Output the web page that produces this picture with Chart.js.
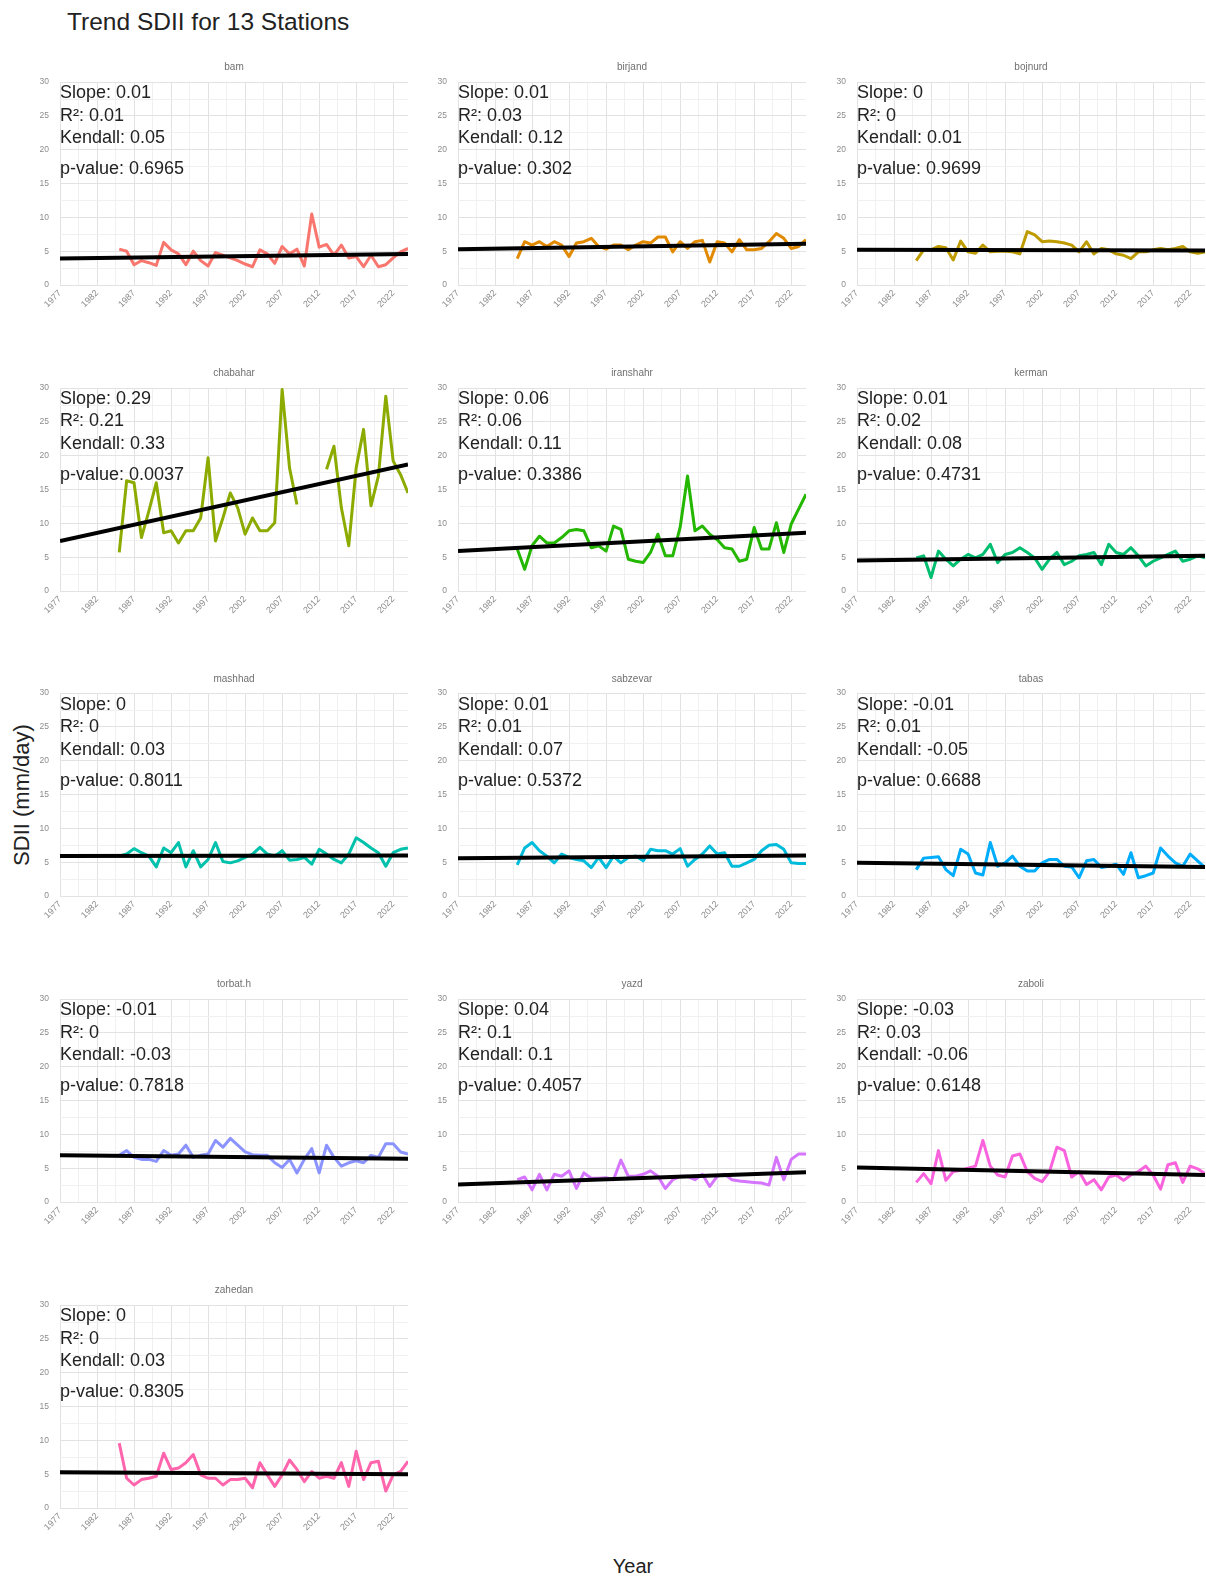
<!DOCTYPE html>
<html>
<head>
<meta charset="utf-8">
<script src="https://cdn.jsdelivr.net/npm/chart.js@4.4.1/dist/chart.umd.min.js"></script>
<style>
  html, body { margin: 0; padding: 0; background: #ffffff; }
  #fig { position: relative; width: 1206px; height: 1580px; overflow: hidden; background: #ffffff;
         font-family: "Liberation Sans", Arial, Helvetica, sans-serif; }
  .abs { position: absolute; white-space: nowrap; }
  .ann { position: absolute; white-space: nowrap; font-size: 18px; line-height: 20px; color: #222; }
  .strip { position: absolute; white-space: nowrap; font-size: 10px; line-height: 12px; color: #707070; transform: translateX(-50%); }
</style>
</head>
<body>
<div id="fig"></div>
<script>
// ---------------- data ----------------
const stations = ['bam','birjand','bojnurd','chabahar','iranshahr','kerman','mashhad','sabzevar','tabas','torbat.h','yazd','zaboli','zahedan'];
const years = [1985,1986,1987,1988,1989,1990,1991,1992,1993,1994,1995,1996,1997,1998,1999,2000,2001,2002,2003,2004,
               2005,2006,2007,2008,2009,2010,2011,2012,2013,2014,2015,2016,2017,2018,2019,2020,2021,2022,2023,2024];
const xTickLabels = [1977,1982,1987,1992,1997,2002,2007,2012,2017,2022];
const yTickLabels = [0,5,10,15,20,25,30];

const bam      = [5.3,5.0,3.0,3.6,3.3,2.9,6.3,5.2,4.6,3.0, 5.0,3.6,2.8,4.8,4.4,4.0,3.6,3.1,2.7,5.2, 4.6,3.2,5.7,4.6,5.3,2.8,10.5,5.6,6.0,4.4, 5.9,4.0,4.2,2.7,4.4,2.7,3.0,4.0,4.9,5.4];
const birjand  = [3.9,6.4,5.9,6.4,5.7,6.4,5.9,4.2,6.2,6.4, 6.9,5.7,5.3,5.9,5.9,5.2,5.9,6.4,6.2,7.1, 7.1,4.9,6.4,5.4,6.4,6.6,3.4,6.4,6.2,4.9, 6.7,5.2,5.2,5.4,6.4,7.6,6.9,5.4,5.7,6.7];
const bojnurd  = [3.6,5.2,5.2,5.7,5.5,3.7,6.5,4.9,4.7,5.9, 4.9,5.0,5.0,4.9,4.6,7.9,7.4,6.4,6.5,6.4, 6.2,5.9,4.9,6.4,4.6,5.4,5.2,4.6,4.4,3.9, 4.9,4.9,5.2,5.4,5.2,5.4,5.7,4.9,4.7,4.9];
const chabahar = [5.7,16.3,16.0,7.9,11.8,16.0,8.6,8.9,7.1,8.9, 8.9,10.8,19.7,7.4,10.8,14.5,12.3,8.4,10.8,8.9, 8.9,10.1,29.8,18.2,12.8,null,null,null,18.0,21.4, 12.3,6.7,18.2,23.9,12.6,17.0,28.8,19.2,17.2,14.5];
const iranshahr= [6.2,3.2,6.7,8.1,7.1,7.1,7.9,8.9,9.1,8.9, 6.4,6.7,5.9,9.6,9.1,4.7,4.4,4.2,5.7,8.4, 5.2,5.2,9.4,17.0,8.9,9.6,8.4,7.6,6.4,6.2, 4.4,4.7,9.4,6.2,6.2,10.1,5.7,9.9,12.1,14.3];
const kerman   = [4.9,5.2,2.0,5.9,4.7,3.7,4.7,5.4,4.9,5.4, 6.9,4.2,5.4,5.7,6.4,5.7,4.9,3.2,4.7,5.7, 3.9,4.4,5.2,5.4,5.7,3.9,6.9,5.7,5.4,6.4, 5.2,3.7,4.4,4.9,5.4,5.9,4.4,4.7,5.2,4.9];
const mashhad  = [5.9,6.2,7.0,6.4,5.9,4.3,7.1,6.4,7.9,4.3, 6.7,4.3,5.4,7.9,5.1,4.9,5.2,5.7,6.2,7.2, 6.2,5.9,6.7,5.3,5.4,5.7,4.7,6.9,6.2,5.4, 4.9,6.2,8.6,7.9,7.1,6.4,4.4,6.4,6.9,7.1];
const sabzevar = [4.6,7.1,7.9,6.7,5.9,4.9,6.2,5.7,5.4,5.2, 4.2,5.7,4.2,5.9,4.9,5.7,5.9,5.2,6.9,6.7, 6.7,6.2,7.0,4.4,5.4,6.2,7.4,6.2,6.4,4.4, 4.4,4.9,5.4,6.7,7.5,7.6,6.9,4.9,4.8,4.8];
const tabas    = [3.9,5.6,5.7,5.8,3.9,3.0,6.9,6.2,3.4,3.1, 7.9,4.4,4.9,5.9,4.4,3.7,3.7,4.9,5.4,5.4, 4.4,4.3,2.7,5.2,5.4,4.2,4.4,4.7,3.2,6.4, 2.7,3.0,3.4,7.1,5.9,4.9,4.4,6.2,5.2,4.2];
const torbat   = [6.9,7.6,6.6,6.3,6.3,6.0,7.6,6.9,7.1,8.4, 6.6,6.9,7.1,9.1,8.1,9.4,8.4,7.4,7.0,6.9, 6.9,5.8,5.1,6.3,4.3,6.3,7.9,4.3,8.4,6.6, 5.3,5.8,6.1,5.8,6.9,6.6,8.6,8.6,7.4,7.1];
const yazd     = [3.3,3.7,1.8,4.1,1.8,4.1,3.8,4.6,2.0,4.3, 3.5,3.5,3.6,3.3,6.2,3.8,3.8,4.1,4.6,3.8, 2.0,3.3,3.8,3.8,3.3,4.1,2.3,3.8,4.1,3.3, 3.1,3.0,2.9,2.8,2.5,6.6,3.3,6.3,7.1,7.1];
const zaboli   = [2.9,4.2,2.7,7.6,3.2,4.5,4.7,5.0,5.3,9.1, 5.3,4.0,3.7,6.8,7.1,4.5,3.5,3.0,4.5,8.1, 7.6,3.7,4.5,2.6,3.3,1.8,3.7,4.0,3.2,4.0, 4.5,5.3,4.0,1.9,5.5,5.8,2.9,5.3,4.9,4.2];
const zahedan  = [9.6,4.4,3.4,4.2,4.4,4.7,8.1,5.7,5.9,6.7, 7.9,4.9,4.4,4.4,3.4,4.2,4.2,4.4,3.0,6.7, 4.9,3.2,4.9,7.1,5.7,3.9,5.4,4.4,4.7,4.4, 6.7,3.2,8.4,4.2,6.7,6.9,2.5,4.9,5.4,6.9];

// fitted trend line values at 1977 and at 2024
const trendStart = [3.9,5.3,5.2,7.4,5.9,4.5,5.9,5.6,4.9,6.9,2.6,5.1,5.3];
const trendEnd   = [4.6,6.1,5.1,18.7,8.6,5.2,6.0,6.0,4.3,6.4,4.4,4.0,5.0];
const trendYears = [1977, 2024];

const slopeText   = ['0.01','0.01','0','0.29','0.06','0.01','0','0.01','-0.01','-0.01','0.04','-0.03','0'];
const r2Text      = ['0.01','0.03','0','0.21','0.06','0.02','0','0.01','0.01','0','0.1','0.03','0'];
const kendallText = ['0.05','0.12','0.01','0.33','0.11','0.08','0.03','0.07','-0.05','-0.03','0.1','-0.06','0.03'];
const pText       = ['0.6965','0.302','0.9699','0.0037','0.3386','0.4731','0.8011','0.5372','0.6688','0.7818','0.4057','0.6148','0.8305'];

const colors = ['#F8766D','#E18A00','#BE9C00','#8CAB00','#24B700','#00BE70','#00C1AB','#00BBDA','#00ACFC','#8B93FF','#D575FE','#F962DD','#FF65AC'];
const series = [bam,birjand,bojnurd,chabahar,iranshahr,kerman,mashhad,sabzevar,tabas,torbat,yazd,zaboli,zahedan];

// ---------------- layout ----------------
const FONT = '"Liberation Sans", Arial, Helvetica, sans-serif';
const colLeft = [60, 458, 857];
const rowTop0 = 82, rowPitch = 305.75;
const plotW = 348, plotH = 203;
const fig = document.getElementById('fig');

function withMinor(major) {
  const out = [];
  for (let k = 0; k < major.length; k++) {
    out.push({ value: major[k], major: true });
    if (k < major.length - 1) out.push({ value: (major[k] + major[k + 1]) / 2, major: false });
  }
  return out;
}
const xTicks = withMinor(xTickLabels);
const yTicks = withMinor(yTickLabels);

function addText(cls, txt, left, top, extra) {
  const d = document.createElement('div');
  d.className = cls;
  d.textContent = txt;
  d.style.left = left + 'px';
  d.style.top = top + 'px';
  if (extra) Object.assign(d.style, extra);
  fig.appendChild(d);
  return d;
}

const gridColor = c => (c.tick && c.tick.major) ? '#e2e2e2' : '#f0f0f0';

function makeChart(i, W, H) {
  const wrap = document.createElement('div');
  wrap.className = 'abs';
  const cv = document.createElement('canvas');
  cv.width = W; cv.height = H;
  cv.style.width = W + 'px'; cv.style.height = H + 'px';
  wrap.appendChild(cv);
  fig.appendChild(wrap);
  const chart = new Chart(cv, {
    type: 'line',
    data: {
      datasets: [
        { data: trendYears.map((yr, k) => ({ x: yr, y: k === 0 ? trendStart[i] : trendEnd[i] })),
          borderColor: '#000000', borderWidth: 4, pointRadius: 0, tension: 0, borderCapStyle: 'butt' },
        { data: years.map((yr, k) => ({ x: yr, y: series[i][k] })),
          borderColor: colors[i], borderWidth: 3, pointRadius: 0, tension: 0, spanGaps: false,
          borderJoinStyle: 'round', borderCapStyle: 'butt' }
      ]
    },
    options: {
      responsive: false, maintainAspectRatio: false, animation: false, devicePixelRatio: 1,
      events: [],
      layout: { padding: { top: 8, right: 6, left: 0, bottom: 0 } },
      plugins: { legend: { display: false }, title: { display: false }, tooltip: { enabled: false } },
      scales: {
        x: {
          type: 'linear', min: 1977, max: 2024,
          afterBuildTicks: s => { s.ticks = xTicks.map(t => ({ value: t.value, major: t.major })); },
          afterFit: s => { s.height = 40; },
          ticks: { autoSkip: false, minRotation: 45, maxRotation: 45, padding: 3,
                   font: { size: 9, family: FONT }, color: '#8c8c8c',
                   callback: (v, idx, ticks) => (ticks[idx] && ticks[idx].major) ? String(v) : '' },
          grid: { drawTicks: false, color: gridColor, lineWidth: 1 },
          border: { display: false }
        },
        y: {
          type: 'linear', min: 0, max: 30,
          afterBuildTicks: s => { s.ticks = yTicks.map(t => ({ value: t.value, major: t.major })); },
          afterFit: s => { s.width = 24; },
          ticks: { autoSkip: false, padding: 11, font: { size: 8.5, family: FONT }, color: '#8c8c8c',
                   callback: (v, idx, ticks) => (ticks[idx] && ticks[idx].major) ? String(v) : '' },
          grid: { drawTicks: false, color: gridColor, lineWidth: 1 },
          border: { display: false }
        }
      }
    }
  });
  return { chart, wrap };
}

for (let i = 0; i < stations.length; i++) {
  const col = i % 3, row = Math.floor(i / 3);
  const left = colLeft[col];
  const top = rowTop0 + rowPitch * row;
  let W = plotW + 40, H = plotH + 60;
  let made = makeChart(i, W, H);
  let ca = made.chart.chartArea;
  const needW = Math.round(W + plotW - (ca.right - ca.left));
  const needH = Math.round(H + plotH - (ca.bottom - ca.top));
  if (needW !== W || needH !== H) {
    made.chart.destroy();
    made.wrap.remove();
    W = needW; H = needH;
    made = makeChart(i, W, H);
    ca = made.chart.chartArea;
  }
  made.wrap.style.left = (left - ca.left) + 'px';
  made.wrap.style.top = (top - ca.top) + 'px';

  // strip label
  addText('strip', stations[i], left + plotW / 2, top - 21);
  // annotations
  addText('ann', 'Slope: ' + slopeText[i], left, top);
  addText('ann', 'R\u00B2: ' + r2Text[i], left, top + 22.5);
  addText('ann', 'Kendall: ' + kendallText[i], left, top + 45);
  addText('ann', 'p-value: ' + pText[i], left, top + 76);
}

// figure titles
addText('abs', 'Trend SDII for 13 Stations', 67, 8, { fontSize: '24.5px', lineHeight: '28px', color: '#222' });
addText('abs', 'SDII (mm/day)', 22, 795, { fontSize: '22px', lineHeight: '24px', color: '#222',
        transform: 'translate(-50%, -50%) rotate(-90deg)' });
addText('abs', 'Year', 633, 1566, { fontSize: '20px', lineHeight: '22px', color: '#222',
        transform: 'translate(-50%, -50%)' });
</script>
</body>
</html>
